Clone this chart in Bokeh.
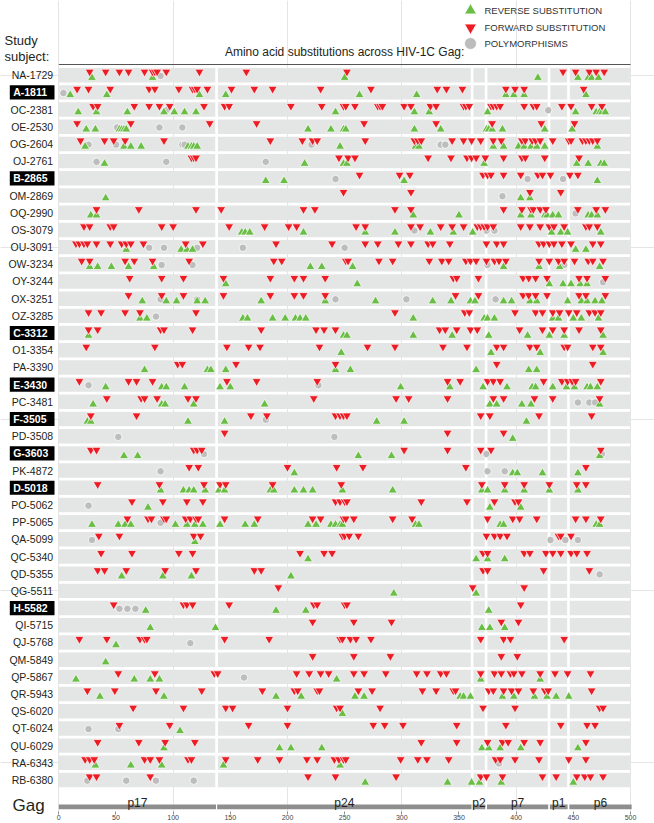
from bokeh.plotting import figure
from bokeh.models import Range1d, FixedTicker, LinearAxis
from bokeh.core.properties import value
from bokeh.embed import file_html
from bokeh.resources import INLINE

# ---------------- data ----------------
subjects = ["NA-1729", "A-1811", "OC-2381", "OE-2530", "OG-2604", "OJ-2761", "B-2865",
            "OM-2869", "OQ-2990", "OS-3079", "OU-3091", "OW-3234", "OY-3244", "OX-3251",
            "OZ-3285", "C-3312", "O1-3354", "PA-3390", "E-3430", "PC-3481", "F-3505",
            "PD-3508", "G-3603", "PK-4872", "D-5018", "PO-5062", "PP-5065", "QA-5099",
            "QC-5340", "QD-5355", "QG-5511", "H-5582", "QI-5715", "QJ-5768", "QM-5849",
            "QP-5867", "QR-5943", "QS-6020", "QT-6024", "QU-6029", "RA-6343", "RB-6380"]
highlighted = ["A-1811", "B-2865", "C-3312", "E-3430", "F-3505", "G-3603", "D-5018", "H-5582"]

forward_subs = [
    [27, 41, 53, 61, 75, 82, 84, 86, 94, 123, 164, 252, 441, 452, 464, 470, 477],
    [16, 26, 45, 79, 84, 105, 117, 119, 121, 130, 151, 171, 187, 229, 273, 331, 339, 353, 391, 399, 407, 459],
    [30, 34, 66, 79, 88, 97, 127, 145, 149, 203, 230, 249, 251, 259, 279, 281, 283, 302, 308, 325, 330, 354, 356, 359, 378, 380, 383, 386, 407, 415, 418, 440, 448, 466, 475],
    [16, 63, 132, 173, 267, 330, 379, 422, 451],
    [19, 40, 48, 58, 92, 185, 213, 222, 226, 268, 311, 314, 317, 344, 354, 361, 369, 380, 387, 405, 408, 414, 417, 421, 432, 446, 448, 458, 461, 464, 467, 471],
    [116, 118, 120, 245, 253, 259, 323, 343, 357, 361, 365, 373, 389, 405, 408, 425, 455],
    [263, 298, 307, 371, 375, 378, 389, 404, 419, 423, 430, 447, 454],
    [249, 308, 412, 439],
    [33, 70, 120, 142, 214, 224, 294, 308, 389, 405, 413, 415, 421, 426, 454, 470, 478],
    [22, 27, 45, 48, 90, 100, 149, 180, 201, 208, 260, 268, 308, 316, 334, 344, 354, 366, 369, 372, 375, 380, 404, 412, 421, 429, 433, 442, 461, 464, 471],
    [15, 18, 22, 25, 33, 45, 55, 59, 63, 74, 111, 126, 190, 239, 268, 279, 297, 308, 323, 327, 342, 374, 383, 389, 420, 424, 429, 433, 440, 448, 467, 474],
    [20, 27, 58, 66, 82, 114, 188, 195, 251, 253, 280, 292, 324, 335, 341, 356, 360, 365, 374, 381, 385, 391, 420, 429, 437, 442, 451, 463, 467, 476],
    [62, 90, 109, 144, 185, 206, 214, 233, 345, 348, 367, 406, 411, 417, 427, 455, 462, 478],
    [61, 90, 109, 144, 185, 206, 214, 233, 347, 367, 406, 411, 417, 427, 455, 461, 478],
    [26, 37, 58, 71, 120, 294, 355, 359, 399, 417, 423, 432, 438, 446, 453, 464, 469, 474],
    [26, 34, 89, 92, 117, 177, 225, 232, 242, 333, 338, 348, 360, 366, 403, 423, 432, 442, 455, 474],
    [24, 84, 147, 166, 176, 228, 270, 294, 336, 357, 383, 389, 412, 418, 442, 445, 467, 474],
    [104, 108, 155, 242, 383, 467],
    [18, 61, 68, 82, 147, 173, 226, 340, 351, 375, 380, 386, 424, 440, 445, 449, 452, 474],
    [42, 72, 75, 86, 113, 120, 223, 295, 306, 340, 380, 389, 416, 432, 473],
    [28, 68, 168, 182, 242, 246, 249, 252, 369, 377, 420, 466],
    [145, 340, 389],
    [28, 33, 118, 121, 125, 302, 340, 369, 378, 474],
    [114, 122, 200, 243, 266, 356, 461],
    [34, 88, 127, 141, 146, 187, 247, 370, 390, 407, 429, 453, 461],
    [64, 91, 112, 126, 242, 246, 250, 252, 317, 357, 381, 399, 402],
    [60, 78, 81, 92, 94, 111, 115, 120, 122, 145, 174, 222, 229, 249, 251, 258, 292, 309, 375, 397, 403, 418, 452, 461, 474],
    [35, 53, 118, 124, 248, 250, 254, 262, 374, 381, 386, 392, 437, 439, 448],
    [37, 64, 105, 117, 211, 232, 239, 371, 375, 407, 412, 426, 432, 439, 448, 453, 462],
    [34, 40, 59, 93, 120, 171, 177, 371, 375, 424, 464],
    [192, 362, 407],
    [48, 109, 112, 117, 149, 223, 226, 250, 252, 404],
    [222, 258, 291, 387, 402],
    [18, 42, 71, 75, 77, 145, 184, 246, 248, 255, 260, 273, 369, 389, 395, 442],
    [222, 258, 290, 387, 401],
    [52, 84, 136, 139, 208, 219, 229, 236, 258, 267, 286, 313, 322, 334, 339, 369, 381, 387, 395, 398, 405, 421, 434, 445, 465],
    [25, 49, 85, 125, 178, 206, 209, 226, 228, 262, 274, 318, 330, 345, 347, 376, 380, 389, 396, 402, 415, 425, 428, 466],
    [65, 109, 146, 152, 200, 243, 246, 281, 371, 399, 473, 476],
    [53, 97, 166, 200, 275, 285, 301, 348, 391, 439, 462, 469],
    [34, 70, 93, 119, 317, 348, 375, 388, 393, 407, 421, 461],
    [23, 27, 31, 75, 80, 88, 113, 116, 146, 174, 193, 217, 226, 241, 245, 249, 251, 299, 314, 322, 341, 382, 386, 399, 420, 446, 461],
    [27, 33, 80, 218, 242, 295, 369, 374, 388, 423, 435, 453, 460, 465, 476],
]

reverse_subs = [
    [29, 82, 250, 419, 454, 463, 466, 472],
    [10, 42, 123, 146, 263, 313, 391, 398, 407, 461],
    [17, 33, 60, 92, 101, 110, 120, 242, 311, 324, 375, 452, 470, 473, 475, 478],
    [24, 32, 53, 55, 57, 59, 218, 238, 249, 251, 311, 334, 374, 376, 379, 388, 425, 449],
    [23, 57, 63, 72, 113, 116, 118, 121, 246, 312, 315, 380, 389, 402, 407, 413, 418, 425, 471],
    [40, 215, 249, 252, 372, 453, 463, 474, 477],
    [181, 197, 302, 471],
    [41, 404, 412],
    [28, 33, 310, 350, 404, 413, 425, 427, 432, 437, 463, 466, 471],
    [160, 163, 167, 214, 268, 294, 325, 345, 362, 431, 439, 445, 474],
    [59, 107, 112, 117, 452, 461],
    [27, 34, 46, 61, 83, 220, 230, 257, 389, 420, 438, 473],
    [146, 261, 429, 441, 448, 456, 462],
    [73, 94, 103, 121, 128, 177, 233, 277, 327, 343, 360, 364, 389, 396, 412, 418, 445, 457, 462, 469, 475],
    [71, 77, 161, 165, 187, 198, 207, 211, 216, 310, 372, 375, 381, 432, 437, 450, 457, 472],
    [26, 249, 252, 310, 344, 376, 410, 429, 442, 476],
    [247, 378, 421, 476],
    [75, 130, 133, 146, 242, 255, 365, 411, 418],
    [41, 90, 94, 110, 141, 150, 299, 342, 371, 392, 414, 417, 432, 444, 451, 462, 465, 471],
    [30, 90, 93, 118, 180, 377, 383, 405, 413, 473],
    [25, 28, 113, 145, 278, 302, 409],
    [397],
    [57, 69, 262, 291, 473],
    [206, 397, 401, 423, 454],
    [89, 109, 114, 118, 128, 140, 145, 185, 188, 206, 214, 222, 248, 292, 370, 375, 390, 407, 429, 454],
    [78, 377, 404],
    [29, 52, 58, 63, 102, 112, 119, 126, 141, 163, 171, 218, 225, 238, 242, 246, 248, 312, 315, 386, 389, 470, 473],
    [119],
    [218, 365, 375, 390],
    [55, 91, 116, 203],
    [293, 365],
    [76, 190, 216, 376],
    [80, 137, 370, 377, 390],
    [50],
    [41],
    [15, 66, 80, 88, 243, 369, 421],
    [36, 92, 190, 212, 259, 267, 351, 354, 360, 388, 398, 416, 427, 435, 446],
    [248],
    [106],
    [92, 193, 203, 230, 370, 376, 386, 404, 454],
    [32, 63, 90, 144, 246],
    [268, 340, 361, 368, 387, 450],
]

polymorphisms = [
    [89], [4], [94, 428], [51, 88, 108], [26, 50, 108, 110, 221, 334, 338], [33, 94, 181],
    [242, 410, 441], [388], [452], [311, 374, 381], [79, 92, 121, 161, 250], [90, 117, 375, 442],
    [476], [89, 121, 242, 304, 382], [85], [], [], [], [26, 227], [454, 464, 469], [181],
    [52, 241], [127, 374, 475], [89, 375, 390], [], [26], [89], [29, 430, 443, 454], [], [473],
    [], [53, 60, 67], [], [115], [], [162], [], [], [26, 52], [], [385], [25, 59, 85, 118],
]

segments = ["p17", "p24", "p2", "p7", "p1", "p6"]
seg_start = [0, 138.5, 362, 374.5, 429.5, 446.5]
seg_end = [137.5, 361, 373, 428, 445, 501]
ticks = [0, 50, 100, 150, 200, 250, 300, 350, 400, 450, 500]
legend_labels = ["REVERSE SUBSTITUTION", "FORWARD SUBSTITUTION", "POLYMORPHISMS"]
legend_markers = ["triangle", "inverted_triangle", "circle"]

# ---------------- styling / layout ----------------
RED = "#EC1C24"
GREEN = "#6ABD45"
GREY = "#BDBDBD"
BAND = "#E3E6E4"
FONT = value("Liberation Sans")
legend_colors = [GREEN, RED, GREY]

W, H = 654, 823
BORDER_BOTTOM = 9
FRAME_H = H - BORDER_BOTTOM
ROW_PX = 17.19         # pixels per row
ROW0_PX = 74.7         # frame px of first row centre
PX_PER_UNIT = 1.1434   # pixels per amino acid
X0_PX = 58.3           # frame px of position 0


def row_of(y_img):
    """window-y px -> row coordinate"""
    return (y_img - ROW0_PX) / ROW_PX


def pos_of(x_img):
    """window-x px -> amino acid coordinate"""
    return (x_img - X0_PX) / PX_PER_UNIT


x_range = Range1d(-X0_PX / PX_PER_UNIT, (W - X0_PX) / PX_PER_UNIT)
y_range = Range1d((FRAME_H - ROW0_PX) / ROW_PX, -ROW0_PX / ROW_PX)

p = figure(width=W, height=H, x_range=x_range, y_range=y_range,
           output_backend="svg", toolbar_location=None,
           x_axis_location=None, y_axis_location=None,
           min_border_left=0, min_border_right=0, min_border_top=0,
           min_border_bottom=BORDER_BOTTOM)
p.outline_line_color = None
p.background_fill_color = "white"
p.border_fill_color = "white"

n = len(subjects)
rows = list(range(n))

# row bands
p.quad(left=[0] * n, right=[500] * n,
       top=[r - 0.42 for r in rows], bottom=[r + 0.42 for r in rows],
       fill_color=BAND, line_color=None)

# white separators between Gag proteins
bounds = [(seg_end[i] + seg_start[i + 1]) / 2 for i in range(len(segments) - 1)]
p.segment(x0=bounds, x1=bounds, y0=[-0.45] * len(bounds), y1=[n - 0.55] * len(bounds),
          line_color="white", line_width=2.6)

# markers
px, py = [], []
for r, vals in enumerate(polymorphisms):
    px += vals
    py += [r + 0.04] * len(vals)
p.scatter(px, py, marker="circle", size=7.5, fill_color=GREY, line_color="white", line_width=0.8)

gx, gy = [], []
for r, vals in enumerate(reverse_subs):
    gx += vals
    gy += [r + 0.15] * len(vals)
p.scatter(gx, gy, marker="triangle", size=9, fill_color=GREEN, line_color="white", line_width=0.7)

rx, ry = [], []
for r, vals in enumerate(forward_subs):
    rx += vals
    ry += [r - 0.2] * len(vals)
p.scatter(rx, ry, marker="inverted_triangle", size=9, fill_color=RED, line_color="white", line_width=0.7)

# row labels
norm_rows = [r for r in rows if subjects[r] not in highlighted]
hl_rows = [r for r in rows if subjects[r] in highlighted]
p.text(x=[pos_of(52.7)] * len(norm_rows), y=norm_rows, text=[subjects[r] for r in norm_rows],
       text_align="right", text_baseline="middle", text_font=FONT,
       text_font_size="10.5px", text_color="#231F20")
p.quad(left=[pos_of(9.3)] * len(hl_rows), right=[pos_of(54)] * len(hl_rows),
       top=[r - 0.41 for r in hl_rows], bottom=[r + 0.41 for r in hl_rows],
       fill_color="black", line_color=None)
p.text(x=[pos_of(12.7)] * len(hl_rows), y=hl_rows, text=[subjects[r] for r in hl_rows],
       text_align="left", text_baseline="middle", text_font=FONT, text_font_style="bold",
       text_font_size="10.5px", text_color="white")

# header
p.text(x=[pos_of(4)] * 2, y=[row_of(40), row_of(56)], text=["Study", "subject:"],
       text_align="left", text_baseline="middle", text_font=FONT,
       text_font_size="13px", text_color="#231F20")
p.text(x=[250], y=[row_of(51)], text=["Amino acid substitutions across HIV-1C Gag:"],
       text_align="center", text_baseline="middle", text_font=FONT,
       text_font_size="12px", text_color="#231F20")
p.segment(x0=[0], x1=[500], y0=[row_of(64)], y1=[row_of(64)], line_color="#555555", line_width=1)

# legend
ly = [row_of(10), row_of(27), row_of(43)]
for i in range(3):
    p.scatter([pos_of(470)], [ly[i]], marker=legend_markers[i], size=12,
              fill_color=legend_colors[i], line_color="white", line_width=0.8)
p.text(x=[pos_of(484)] * 3, y=ly, text=legend_labels, text_align="left",
       text_baseline="middle", text_font=FONT, text_font_size="9.5px", text_color="#333333")

# Gag gene bar
bar_top = row_of(804)
bar_bot = row_of(808.7)
p.quad(left=seg_start, right=seg_end, top=[bar_top] * len(segments), bottom=[bar_bot] * len(segments),
       fill_color="#8E8E8E", line_color=None)
centers = [(a + b) / 2 for a, b in zip(seg_start, seg_end)]
p.text(x=centers, y=[row_of(802)] * len(segments), text=segments,
       text_align="center", text_baseline="alphabetic", text_font=FONT,
       text_font_size="12px", text_color="#231F20")
p.text(x=[pos_of(12)], y=[row_of(805)], text=["Gag"], text_align="left",
       text_baseline="middle", text_font=FONT, text_font_size="17px", text_color="#231F20")

axis = LinearAxis(ticker=FixedTicker(ticks=ticks))
axis.axis_line_color = None
axis.major_tick_line_color = "#8E8E8E"
axis.major_tick_in = 3
axis.major_tick_out = 0
axis.minor_tick_line_color = None
axis.major_label_standoff = 0
axis.major_label_text_font = "Liberation Sans"
axis.major_label_text_font_size = "7px"
axis.major_label_text_color = "#444444"
p.add_layout(axis, "below")

open("out.html", "w").write(file_html(p, INLINE))
